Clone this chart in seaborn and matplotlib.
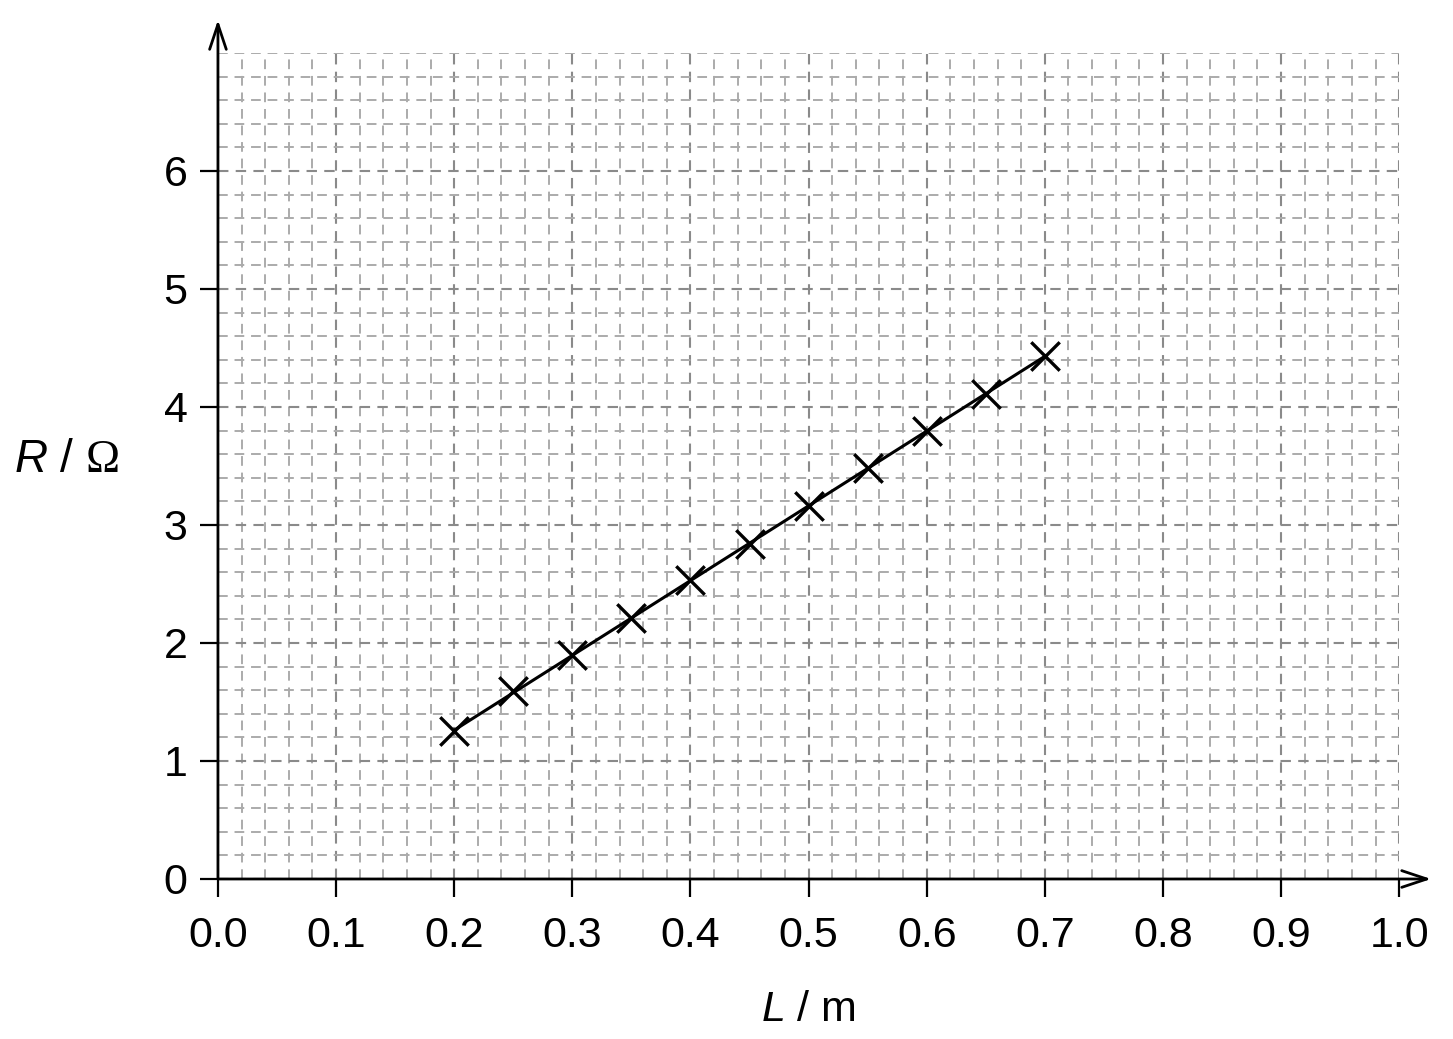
import seaborn as sns
import pandas as pd
from matplotlib import pyplot as plt
from matplotlib.ticker import MultipleLocator

# length / resistance readings
length_m = [0.20, 0.25, 0.30, 0.35, 0.40, 0.45, 0.50, 0.55, 0.60, 0.65, 0.70]
resistance_ohm = [1.25, 1.59, 1.90, 2.21, 2.53, 2.84, 3.16, 3.48, 3.80, 4.11, 4.43]
x_ticks = [0.0, 0.1, 0.2, 0.3, 0.4, 0.5, 0.6, 0.7, 0.8, 0.9, 1.0]
y_ticks = [0, 1, 2, 3, 4, 5, 6]

df = pd.DataFrame({"L": length_m, "R": resistance_ohm})

sns.set_style("white")
plt.rcParams['font.family'] = ['Liberation Sans', 'DejaVu Sans']
plt.rcParams['mathtext.fontset'] = 'custom'
plt.rcParams['mathtext.it'] = 'Liberation Sans:italic'
plt.rcParams['mathtext.rm'] = 'Liberation Serif'
plt.rcParams['text.color'] = 'black'
plt.rcParams['axes.labelcolor'] = 'black'

fig = plt.figure(figsize=(14.53, 10.39), dpi=100)
ax = fig.add_axes([0.150, 0.154, 0.813, 0.795])

sns.regplot(x="L", y="R", data=df, ci=None, ax=ax, marker="x", color="black",
            scatter_kws={"s": 420, "linewidths": 2.4, "alpha": 1, "zorder": 5},
            line_kws={"lw": 2.2, "zorder": 4})

ax.set_xlim(0, 1.0)
ax.set_ylim(0, 7)
ax.set_xticks(x_ticks)
ax.set_xticklabels([f"{v:.1f}" for v in x_ticks])
ax.set_yticks(y_ticks)
ax.xaxis.set_minor_locator(MultipleLocator(0.02))
ax.yaxis.set_minor_locator(MultipleLocator(0.2))

ax.grid(True, which="major", color="#8a8a8a", linestyle=(0, (5, 3.5)), linewidth=1.5)
ax.grid(True, which="minor", color="#ababab", linestyle=(0, (5, 3.5)), linewidth=1.4)
ax.set_axisbelow(True)

ax.tick_params(which="major", direction="out", length=13, width=1.6,
               labelsize=31, colors="black", bottom=True, left=True)
ax.tick_params(axis="x", pad=14)
ax.tick_params(axis="y", pad=9)
ax.tick_params(which="minor", length=0)

for s in ["top", "right", "left", "bottom"]:
    ax.spines[s].set_visible(False)

# axis arrows
arrow = dict(arrowstyle="->,head_length=1.8,head_width=0.6", lw=2, color="black",
             shrinkA=0, shrinkB=0)
ax.annotate("", xy=(0, 7.28), xytext=(0, 0), annotation_clip=False, arrowprops=arrow)
ax.annotate("", xy=(1.027, 0), xytext=(0, 0), annotation_clip=False, arrowprops=arrow)

ax.set_xlabel("$L$ / m", fontsize=31, va="center")
ax.xaxis.set_label_coords(0.5, -0.159)
ax.set_ylabel(r"$R$ / $\Omega$", fontsize=33, rotation=0, ha="right", va="center")
ax.yaxis.set_label_coords(-0.084, 0.507)

fig.savefig("out.png", dpi=100)
